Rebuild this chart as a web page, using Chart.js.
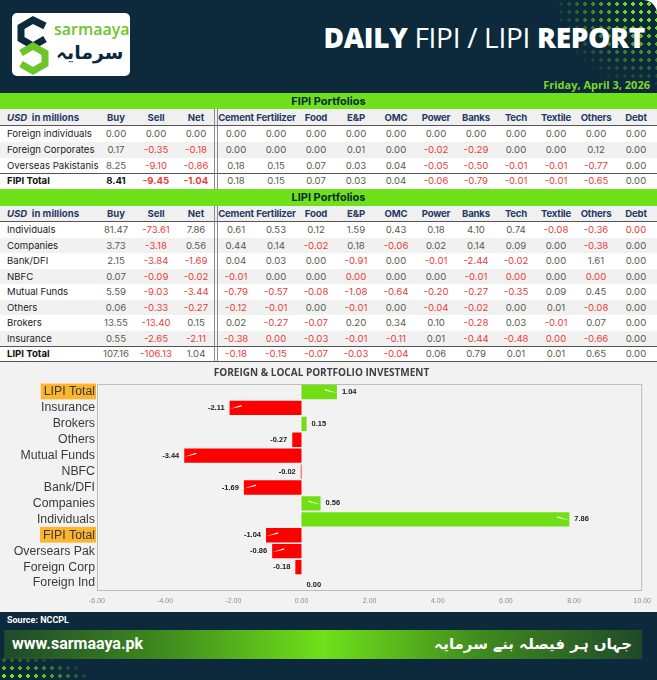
<!DOCTYPE html>
<html>
<head>
<meta charset="utf-8">
<script src="https://cdn.jsdelivr.net/npm/chart.js@4.4.1/dist/chart.umd.min.js"></script>
<style>
  body { margin: 0; width: 657px; height: 680px; overflow: hidden; background: #fff; font-family: Inter, "Noto Sans", sans-serif; }
  #page { position: relative; width: 657px; height: 680px; }
  .abs { position: absolute; }
  #top { left: 0; top: 0; width: 657px; height: 93px; background: #0c2a3b; border-top-right-radius: 14px; overflow: hidden; }
  .dots { background-image: radial-gradient(circle, #72e21a 1.6px, transparent 2.1px); background-size: 8px 8px; }
  #logo { left: 12px; top: 13px; width: 118px; height: 63px; background: #fff; border-radius: 5px; }
  #title { right: 12px; top: 19px; color: #fff; font-family: "Open Sans", sans-serif; font-size: 28px; line-height: 36px; white-space: nowrap; letter-spacing: -0.3px; }
  #title b { font-weight: 800; }
  #title span { font-weight: 400; }
  #date { right: 7px; top: 77px; color: #7fd62a; font-family: "Open Sans", sans-serif; font-weight: 700; font-size: 11px; line-height: 16px; }
  .cell { position: absolute; text-align: center; font-size: 9.6px; white-space: nowrap; }
  .band { position: absolute; left: 0; width: 657px; background: #6ee11a; color: #0c2a3b; font-weight: 700; font-size: 11px; text-align: center; }
  #chartBox { left: 0; top: 362px; width: 657px; height: 250px; background: #f2f2f2; }
  #foot { left: 0; top: 612px; width: 657px; height: 68px; background: #0c2a3b; overflow: hidden; }
</style>
</head>
<body>
<div id="page">
  <div id="top" class="abs">
    <div class="abs dots" style="right:0;top:0;width:100px;height:85px;-webkit-mask-image:radial-gradient(ellipse at 100% 0%, #000 20%, transparent 75%);"></div>
  </div>
  <div id="logo" class="abs">
    <svg width="118" height="63" style="position:absolute;left:0;top:0">
      <polyline points="33,13 21,7 9,14 9,26 21,33 33,26" fill="none" stroke="#0c2a3b" stroke-width="7" stroke-linejoin="miter"/>
      <polyline points="9,40 21,33 33,40 33,51 21,58 9,51" fill="none" stroke="#6cc62a" stroke-width="7" stroke-linejoin="miter"/>
    </svg>
    <div class="abs" style="left:42px;top:6px;color:#6cc62a;font-family:'Open Sans',sans-serif;font-weight:600;font-size:16px;line-height:20px;">sarmaaya</div>
    <div class="abs" style="left:44px;top:26px;color:#0c2a3b;font-family:'DejaVu Sans',sans-serif;font-weight:700;font-size:19px;line-height:26px;" dir="rtl">سرمایہ</div>
  </div>
  <div id="title" class="abs"><b>DAILY</b> <span>FIPI / LIPI</span> <b>REPORT</b></div>
  <div id="date" class="abs">Friday, April 3, 2026</div>

  <div id="tables"></div>

  <div id="chartBox" class="abs"><canvas id="flowChart" width="657" height="250"></canvas></div>

  <div id="foot" class="abs">
    <div class="abs" style="left:7px;top:3px;color:#fff;font-weight:700;font-size:9px;font-family:Roboto,sans-serif;">Source: NCCPL</div>
    <div class="abs" style="left:4px;top:18px;width:638px;height:29px;background:linear-gradient(90deg,#1f4a2a 0%,#3f8a1e 25%,#6fe01a 50%,#3f8a1e 75%,#1f4a2a 100%);"></div>
    <div class="abs" style="left:12px;top:22px;color:#fff;font-weight:700;font-size:16px;line-height:20px;font-family:Roboto,sans-serif;">www.sarmaaya.pk</div>
    <div class="abs" dir="rtl" style="right:25px;top:20px;color:#fff;font-weight:700;font-size:15px;line-height:24px;font-family:'DejaVu Sans',sans-serif;">جہاں ہر فیصلہ بنے سرمایہ</div>
    <div class="abs dots" style="left:0;top:44px;width:90px;height:24px;-webkit-mask-image:radial-gradient(ellipse at 0% 100%, #000 25%, transparent 75%);"></div>
  </div>
</div>

<script>
// Sector columns
const sectors = ["Cement", "Fertilizer", "Food", "E&P", "OMC", "Power", "Banks", "Tech", "Textile", "Others", "Debt"];

// FIPI table
const fipiNames = ["Foreign individuals", "Foreign Corporates", "Overseas Pakistanis", "FIPI Total"];
const fipiBuy = [0.00, 0.17, 8.25, 8.41];
const fipiSell = [0.00, -0.35, -9.10, -9.45];
const fipiNet = [0.00, -0.18, -0.86, -1.04];
const fipiSectors = [
	[0.00, 0.00, 0.00, 0.00, 0.00, 0.00, 0.00, 0.00, 0.00, 0.00, 0.00],
	[0.00, 0.00, 0.00, 0.01, 0.00, -0.02, -0.29, 0.00, 0.00, 0.12, 0.00],
	[0.18, 0.15, 0.07, 0.03, 0.04, -0.05, -0.50, -0.01, -0.01, -0.77, 0.00],
	[0.18, 0.15, 0.07, 0.03, 0.04, -0.06, -0.79, -0.01, -0.01, -0.65, 0.00],
];

// LIPI table (-0 = tiny outflow shown as red 0.00)
const lipiNames = ["Individuals", "Companies", "Bank/DFI", "NBFC", "Mutual Funds", "Others", "Brokers", "Insurance", "LIPI Total"];
const lipiBuy = [81.47, 3.73, 2.15, 0.07, 5.59, 0.06, 13.55, 0.55, 107.16];
const lipiSell = [-73.61, -3.18, -3.84, -0.09, -9.03, -0.33, -13.40, -2.65, -106.13];
const lipiNet = [7.86, 0.56, -1.69, -0.02, -3.44, -0.27, 0.15, -2.11, 1.04];
const lipiSectors = [
	[0.61, 0.53, 0.12, 1.59, 0.43, 0.18, 4.10, 0.74, -0.08, -0.36, -0],
	[0.44, 0.14, -0.02, 0.18, -0.06, 0.02, 0.14, 0.09, 0.00, -0.38, 0.00],
	[0.04, 0.03, 0.00, -0.91, 0.00, -0.01, -2.44, -0.02, 0.00, 1.61, 0.00],
	[-0.01, 0.00, 0.00, -0, 0.00, 0.00, -0.01, -0, 0.00, -0, 0.00],
	[-0.79, -0.57, -0.08, -1.08, -0.64, -0.20, -0.27, -0.35, 0.09, 0.45, 0.00],
	[-0.12, -0.01, 0.00, -0.01, 0.00, -0.04, -0.02, 0.00, 0.01, -0.08, 0.00],
	[0.02, -0.27, -0.07, 0.20, 0.34, 0.10, -0.28, 0.03, -0.01, 0.07, 0.00],
	[-0.38, -0, -0.03, -0.01, -0.11, 0.01, -0.44, -0.48, -0, -0.66, 0.00],
	[-0.18, -0.15, -0.07, -0.03, -0.04, 0.06, 0.79, 0.01, 0.01, 0.65, 0.00],
];

// Chart categories (top to bottom) - net values come from the tables
const chartLabels = ["LIPI Total", "Insurance", "Brokers", "Others", "Mutual Funds", "NBFC", "Bank/DFI", "Companies",
	"Individuals", "FIPI Total", "Oversears Pak", "Foreign Corp", "Foreign Ind"];
const chartValues = [...lipiNet].reverse().concat([...fipiNet].reverse());
const xTicks = [-6, -4, -2, 0, 2, 4, 6, 8, 10];

const RED = "#e8403a", POS = "#56604a", HEAD = "#1f3b66";

function isNeg(v) { return v < 0 || Object.is(v, -0); }

function addDiv(parent, css, html) {
	const d = document.createElement("div");
	d.style.cssText = css;
	d.innerHTML = html;
	parent.appendChild(d);
	return d;
}

function buildTable(top, title, names, buy, sell, net, secs, rowH, bandH, headH) {
	const host = document.getElementById("tables");
	addDiv(host, `top:${top}px;height:${bandH}px;line-height:${bandH}px;`, title).className = "band";
	let y = top + bandH;
	// header row
	addDiv(host, `position:absolute;left:0;top:${y}px;width:657px;height:${headH}px;background:#f0f0f1;border-bottom:1.5px solid #555;box-sizing:border-box;`, "");
	const hs = `top:${y}px;line-height:${headH}px;font-weight:700;color:${HEAD};`;
	addDiv(host, hs + "left:7px;text-align:left;", "<i>USD</i>&nbsp; in millions").className = "cell";
	["Buy", "Sell", "Net"].forEach((h, i) => addDiv(host, hs + `left:${96 + i * 40}px;width:40px;`, h).className = "cell");
	sectors.forEach((h, i) => addDiv(host, hs + `left:${216 + i * 40}px;width:40px;letter-spacing:-0.2px;`, h).className = "cell");
	const tableTop = y;
	y += headH;
	names.forEach((n, r) => {
		const total = r === names.length - 1;
		const bg = r % 2 === 1 && !total ? "#f1f1f1" : "#fff";
		const border = total ? "border-top:1.5px solid #555;" : "";
		addDiv(host, `position:absolute;left:0;top:${y}px;width:657px;height:${rowH}px;background:${bg};${border}box-sizing:border-box;`, "");
		const rs = `top:${y}px;line-height:${rowH + 1}px;`;
		addDiv(host, rs + `left:7px;text-align:left;color:#222;${total ? "font-weight:700;color:#111;" : ""}`, n).className = "cell";
		[buy[r], sell[r], net[r]].forEach((v, i) => {
			const bold = total && title.startsWith("FIPI");
			const col = isNeg(v) ? RED : (bold ? "#111" : POS);
			addDiv(host, rs + `left:${96 + i * 40}px;width:40px;color:${col};${bold ? "font-weight:700;" : ""}`, v.toFixed(2)).className = "cell";
		});
		secs[r].forEach((v, i) => {
			addDiv(host, rs + `left:${216 + i * 40}px;width:40px;color:${isNeg(v) ? RED : POS};`, v.toFixed(2)).className = "cell";
		});
		y += rowH;
	});
	// double divider between Net and sectors
	addDiv(host, `position:absolute;left:214px;top:${tableTop}px;width:1px;height:${y - tableTop}px;background:#888;`, "");
	addDiv(host, `position:absolute;left:217px;top:${tableTop}px;width:1px;height:${y - tableTop}px;background:#888;`, "");
	return y;
}

buildTable(93, "FIPI Portfolios", fipiNames, fipiBuy, fipiSell, fipiNet, fipiSectors, 15.75, 16, 17);
const end = buildTable(189, "LIPI Portfolios", lipiNames, lipiBuy, lipiSell, lipiNet, lipiSectors, 15.5, 17, 16);
addDiv(document.getElementById("tables"), `position:absolute;left:0;top:${end - 1}px;width:657px;height:2px;background:#555;`, "");

// Plot frame
const frame = {
	id: "frame",
	beforeDatasetsDraw(chart) {
		const a = chart.chartArea, ctx = chart.ctx;
		ctx.save();
		ctx.strokeStyle = "#bdbdbd";
		ctx.lineWidth = 1;
		ctx.strokeRect(a.left + 0.5, a.top + 0.5, a.right - a.left - 1, a.bottom - a.top - 1);
		ctx.restore();
	},
};

// Value labels with callout notch
const valueLabels = {
	id: "valueLabels",
	afterDatasetsDraw(chart) {
		const ctx = chart.ctx;
		const vals = chart.data.datasets[0].data;
		ctx.save();
		chart.getDatasetMeta(0).data.forEach((bar, i) => {
			const v = vals[i];
			const w = bar.x - bar.base;
			if (Math.abs(w) > 15) {
				const d = w < 0 ? 1 : -1;
				ctx.fillStyle = "#fff";
				ctx.beginPath();
				ctx.moveTo(bar.x, bar.y + 1);
				ctx.lineTo(bar.x + d * 12, bar.y - 3);
				ctx.lineTo(bar.x + d * 12, bar.y - 1.5);
				ctx.closePath();
				ctx.fill();
			}
			ctx.fillStyle = "#1a1a1a";
			ctx.font = 'bold 7.5px "Liberation Sans Narrow", "Liberation Sans", sans-serif';
			ctx.textBaseline = "middle";
			if (v < 0) {
				ctx.textAlign = "right";
				ctx.fillText(v.toFixed(2), bar.x - 5, bar.y);
			} else {
				ctx.textAlign = "left";
				ctx.fillText(v.toFixed(2), bar.x + 5, v === 0 ? bar.y + 2 : bar.y);
			}
		});
		ctx.restore();
	},
};

const totals = ["LIPI Total", "FIPI Total"];

new Chart(document.getElementById("flowChart").getContext("2d"), {
	type: "bar",
	data: {
		labels: chartLabels,
		datasets: [{
			data: chartValues,
			backgroundColor: chartValues.map(v => (v < 0 ? "#ff0000" : "#70e014")),
			barPercentage: 0.9,
			categoryPercentage: 1,
			borderWidth: 0,
		}],
	},
	options: {
		indexAxis: "y",
		responsive: false,
		animation: false,
		layout: { padding: { left: 0, right: 14, top: 0, bottom: 0 } },
		plugins: {
			legend: { display: false },
			tooltip: { enabled: false },
			title: {
				display: true,
				text: "FOREIGN & LOCAL PORTFOLIO INVESTMENT",
				color: "#404040",
				font: { size: 10, weight: "bold", family: "'Open Sans', sans-serif" },
				padding: { top: 5, bottom: 5 },
			},
		},
		scales: {
			x: {
				min: xTicks[0],
				max: xTicks[xTicks.length - 1],
				afterBuildTicks(scale) { scale.ticks = xTicks.map(v => ({ value: v })); },
				ticks: {
					callback: v => Number(v).toFixed(2),
					color: "#8c8c8c",
					font: { size: 7, family: "'Liberation Sans Narrow', 'Liberation Sans', sans-serif" },
					padding: 6,
				},
				grid: { display: false, drawTicks: false },
				border: { display: false },
				afterFit(scale) { scale.height = 21; },
			},
			y: {
				ticks: {
					autoSkip: false,
					color: "#3a3a3a",
					font: { size: 12.3, family: "'Liberation Sans', Arial, sans-serif" },
					padding: 2,
					showLabelBackdrop: c => totals.includes(chartLabels[c.index]),
					backdropColor: "#fbb52e",
					backdropPadding: { top: 1, bottom: 0, left: 3, right: 1 },
				},
				grid: { display: false, drawTicks: false },
				border: { display: false },
				afterFit(scale) { scale.width = 97; },
			},
		},
	},
	plugins: [frame, valueLabels],
});
</script>
</body>
</html>
